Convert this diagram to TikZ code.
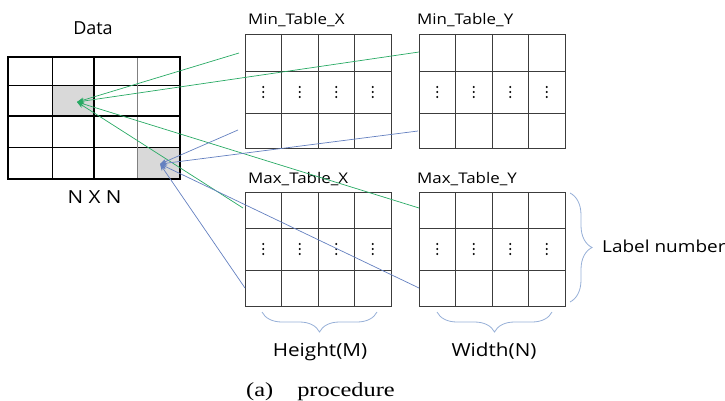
\documentclass[tikz,border=0pt]{standalone}
\usepackage{fontspec}
\setmainfont{Open Sans}
\newfontfamily\wsans[FakeStretch=1.15]{Open Sans}
\newfontfamily\wserif[FakeStretch=1.22]{Liberation Serif}
\usetikzlibrary{arrows.meta,decorations.pathreplacing}
\definecolor{lgreen}{RGB}{40,170,100}
\definecolor{lblue}{RGB}{100,128,192}
\definecolor{bracec}{RGB}{150,175,215}
\definecolor{cellgray}{RGB}{217,217,217}
\definecolor{tline}{RGB}{60,60,60}
\tikzset{
  tlbl/.style={font=\wsans\fontsize{14.7}{17}\selectfont, inner sep=0pt, anchor=base west},
  blbl/.style={font=\wsans\fontsize{18}{20}\selectfont, inner sep=0pt, anchor=base},
  tgrid/.style={draw=tline, line width=0.9pt},
  thinline/.style={draw=black, line width=0.7pt},
  thickline/.style={draw=black, line width=2.4pt},
  garrow/.style={draw=lgreen, line width=0.7pt, -{Stealth[length=7pt,width=5pt]}},
  barrow/.style={draw=lblue, line width=0.7pt, -{Stealth[length=7pt,width=5pt]}},
  bracestyle/.style={draw=bracec, line width=0.8pt, decorate, decoration={brace, amplitude=#1}},
  vdot/.style={fill=black, circle, inner sep=0pt, minimum size=2.2pt},
}
\begin{document}
\begin{tikzpicture}[x=1pt,y=-1pt]
\useasboundingbox (0,0) rectangle (725,401);
% ---- Data grid ----
\fill[cellgray] (52,85) rectangle (94,116);
\fill[cellgray] (137,147) rectangle (180,179);
\foreach \y in {85,147} \draw[thinline] (8,\y) -- (180,\y);
\draw[thinline] (52,57) -- (52,179);
\draw[draw=gray, line width=0.9pt] (137,57) -- (137,179);
\draw[thickline] (94,57) -- (94,179);
\draw[thickline] (8,116) -- (180,116);
\draw[thickline] (8,57) rectangle (180,179);
\node[inner sep=0pt, anchor=base, font=\fontsize{18}{20}\selectfont] (data) at (93,35) {Data};
\node[blbl] (nxn) at (94.5,203) {N X N};
% ---- tables ----
\foreach \x/\X in {245/391,419/565}{
  \foreach \ya/\yb/\yc/\yd in {34/71/113/148,192/228/270/306}{
    \draw[tgrid] (\x,\ya) rectangle (\X,\yd);
    \draw[tgrid] (\x,\yb) -- (\X,\yb);
    \draw[tgrid] (\x,\yc) -- (\X,\yc);
    \foreach \i in {1,2,3}{
      \draw[tgrid] ({\x+\i*(\X-\x)/4},\ya) -- ({\x+\i*(\X-\x)/4},\yd);
    }
    \foreach \i in {0,1,2,3}{
      \foreach \dy in {-5,0,5}{
        \node[vdot] at ({\x+(\i+0.5)*(\X-\x)/4},{(\yb+\yc)/2+\dy}) {};
      }
    }
  }
}
\node[tlbl] (minx) at (248,25) {Min\_Table\_X};
\node[tlbl] (miny) at (417,25) {Min\_Table\_Y};
\node[tlbl] (maxx) at (248,183) {Max\_Table\_X};
\node[tlbl] (maxy) at (417,183) {Max\_Table\_Y};
% ---- connector anchors ----
\coordinate (gt) at (77,102);
\coordinate (bt) at (160,164);
\coordinate (gminx) at (239,53);
\coordinate (gminy) at (419,52);
\coordinate (gmaxx) at (243,208);
\coordinate (gmaxy) at (419,208);
\coordinate (bminx) at (238,130);
\coordinate (bminy) at (418,131);
\coordinate (bmaxx) at (245,288);
\coordinate (bmaxy) at (419,288);
\foreach \c in {gminx,gminy,gmaxx,gmaxy} \draw[garrow] (\c) -- (gt);
\foreach \c in {bminx,bminy,bmaxx,bmaxy} \draw[barrow] (\c) -- (bt);
% ---- braces ----
\coordinate (rb1) at (570,193);
\coordinate (rb2) at (570,302);
\draw[bracestyle=22pt] (rb1) -- (rb2);
\node[inner sep=0pt, anchor=base west, font=\wsans\fontsize{16.5}{18}\selectfont] (labnum) at (602,252) {Label number};
\coordinate (hb1) at (377,312);
\coordinate (hb2) at (262,312);
\draw[bracestyle=20pt] (hb1) -- (hb2);
\coordinate (wb1) at (552,312);
\coordinate (wb2) at (437,312);
\draw[bracestyle=20pt] (wb1) -- (wb2);
\node[blbl] (height) at (320,356) {Height(M)};
\node[blbl] (width) at (494,356) {Width(N)};
\node[anchor=base west, inner sep=0pt, font=\wserif\fontsize{20}{22}\selectfont] (cap) at (246,396) {(a)\hspace{24pt}procedure};
\end{tikzpicture}
\end{document}
